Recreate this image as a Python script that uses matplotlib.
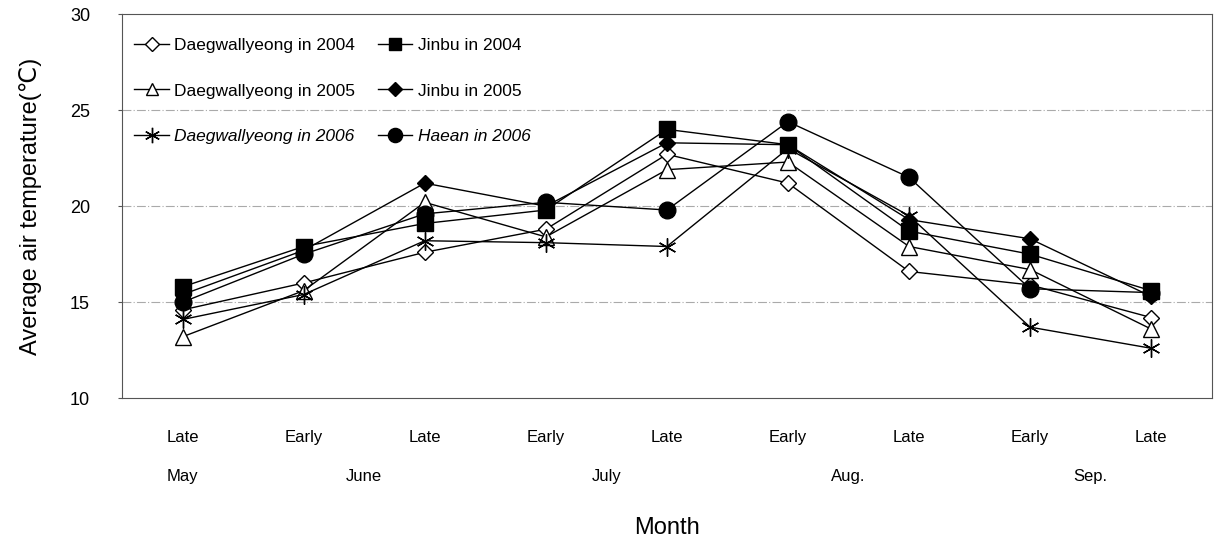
import matplotlib
matplotlib.use("Agg")
import matplotlib.pyplot as plt

# ten-day periods from late May to late September
periods = ["Late", "Early", "Late", "Early", "Late", "Early", "Late", "Early", "Late"]
months = ["May", "June", "July", "Aug.", "Sep."]
month_pos = [0, 1.5, 3.5, 5.5, 7.5]

# average air temperature (deg C)
daeg_2004 = [14.6, 16.0, 17.6, 18.8, 22.7, 21.2, 16.6, 15.9, 14.2]
daeg_2005 = [13.2, 15.6, 20.2, 18.4, 21.9, 22.3, 17.9, 16.7, 13.6]
daeg_2006 = [14.1, 15.4, 18.2, 18.1, 17.9, 23.0, 19.5, 13.7, 12.6]
jinbu_2004 = [15.8, 17.9, 19.1, 19.8, 24.0, 23.2, 18.7, 17.5, 15.6]
jinbu_2005 = [15.4, 17.7, 21.2, 20.0, 23.3, 23.2, 19.3, 18.3, 15.3]
haean_2006 = [15.0, 17.5, 19.6, 20.2, 19.8, 24.4, 21.5, 15.7, 15.5]

plt.rcParams['font.family'] = ['Liberation Sans', 'DejaVu Sans']

fig = plt.figure(figsize=(12.23, 5.44), dpi=100)
ax = fig.add_axes([0.0998, 0.268, 0.891, 0.706])

x = list(range(len(periods)))
lw = 1.0
ax.plot(x, daeg_2004, color='black', lw=lw, marker='D', ms=8, mfc='white', mec='black',
        label='Daegwallyeong in 2004', zorder=3)
ax.plot(x, daeg_2005, color='black', lw=lw, marker='^', ms=11, mfc='white', mec='black',
        label='Daegwallyeong in 2005', zorder=3)
ax.plot(x, daeg_2006, color='black', lw=lw, marker=(6, 2, 0), ms=13, mec='black', mew=1.0,
        label='Daegwallyeong in 2006', zorder=3)
ax.plot(x, jinbu_2004, color='black', lw=lw, marker='s', ms=11, mfc='black', mec='black',
        label='Jinbu in 2004', zorder=4)
ax.plot(x, jinbu_2005, color='black', lw=lw, marker='D', ms=8, mfc='black', mec='black',
        label='Jinbu in 2005', zorder=4)
ax.plot(x, haean_2006, color='black', lw=lw, marker='o', ms=12, mfc='black', mec='black',
        label='Haean in 2006', zorder=4)

ax.set_xlim(-0.5, len(periods) - 0.5)
ax.set_ylim(10, 30)
ax.set_yticks([10, 15, 20, 25, 30])
ax.tick_params(axis='y', labelsize=13, length=3, pad=20, color='#555555')
ax.set_xticks(x)
ax.set_xticklabels(periods, fontsize=12)
ax.tick_params(axis='x', length=0, pad=23)
for gy in [15, 20, 25]:
    ax.axhline(gy, color='#aaaaaa', lw=0.8, ls=(0, (8, 2, 1, 2)), zorder=1)
for sp in ax.spines.values():
    sp.set_color('#555555')
    sp.set_linewidth(0.8)

for m, p in zip(months, month_pos):
    ax.text(p, -0.205, m, transform=ax.get_xaxis_transform(), ha='center', va='center',
            fontsize=12)

ax.set_ylabel('Average air temperature(℃)', fontsize=17, labelpad=20)
fig.text(0.545, 0.03, 'Month', ha='center', va='center', fontsize=17)

leg = ax.legend(ncol=2, loc='upper left', frameon=False, fontsize=12.5, handlelength=2.0,
                labelspacing=1.75, columnspacing=1.3, handletextpad=0.3,
                bbox_to_anchor=(0.0, 0.97), borderaxespad=0.3)
for t in leg.get_texts():
    if t.get_text() in ('Daegwallyeong in 2006', 'Haean in 2006'):
        t.set_style('italic')
for h in leg.legend_handles:
    h.set_markersize(h.get_markersize() * 0.85)

fig.savefig('out.png', dpi=100)
